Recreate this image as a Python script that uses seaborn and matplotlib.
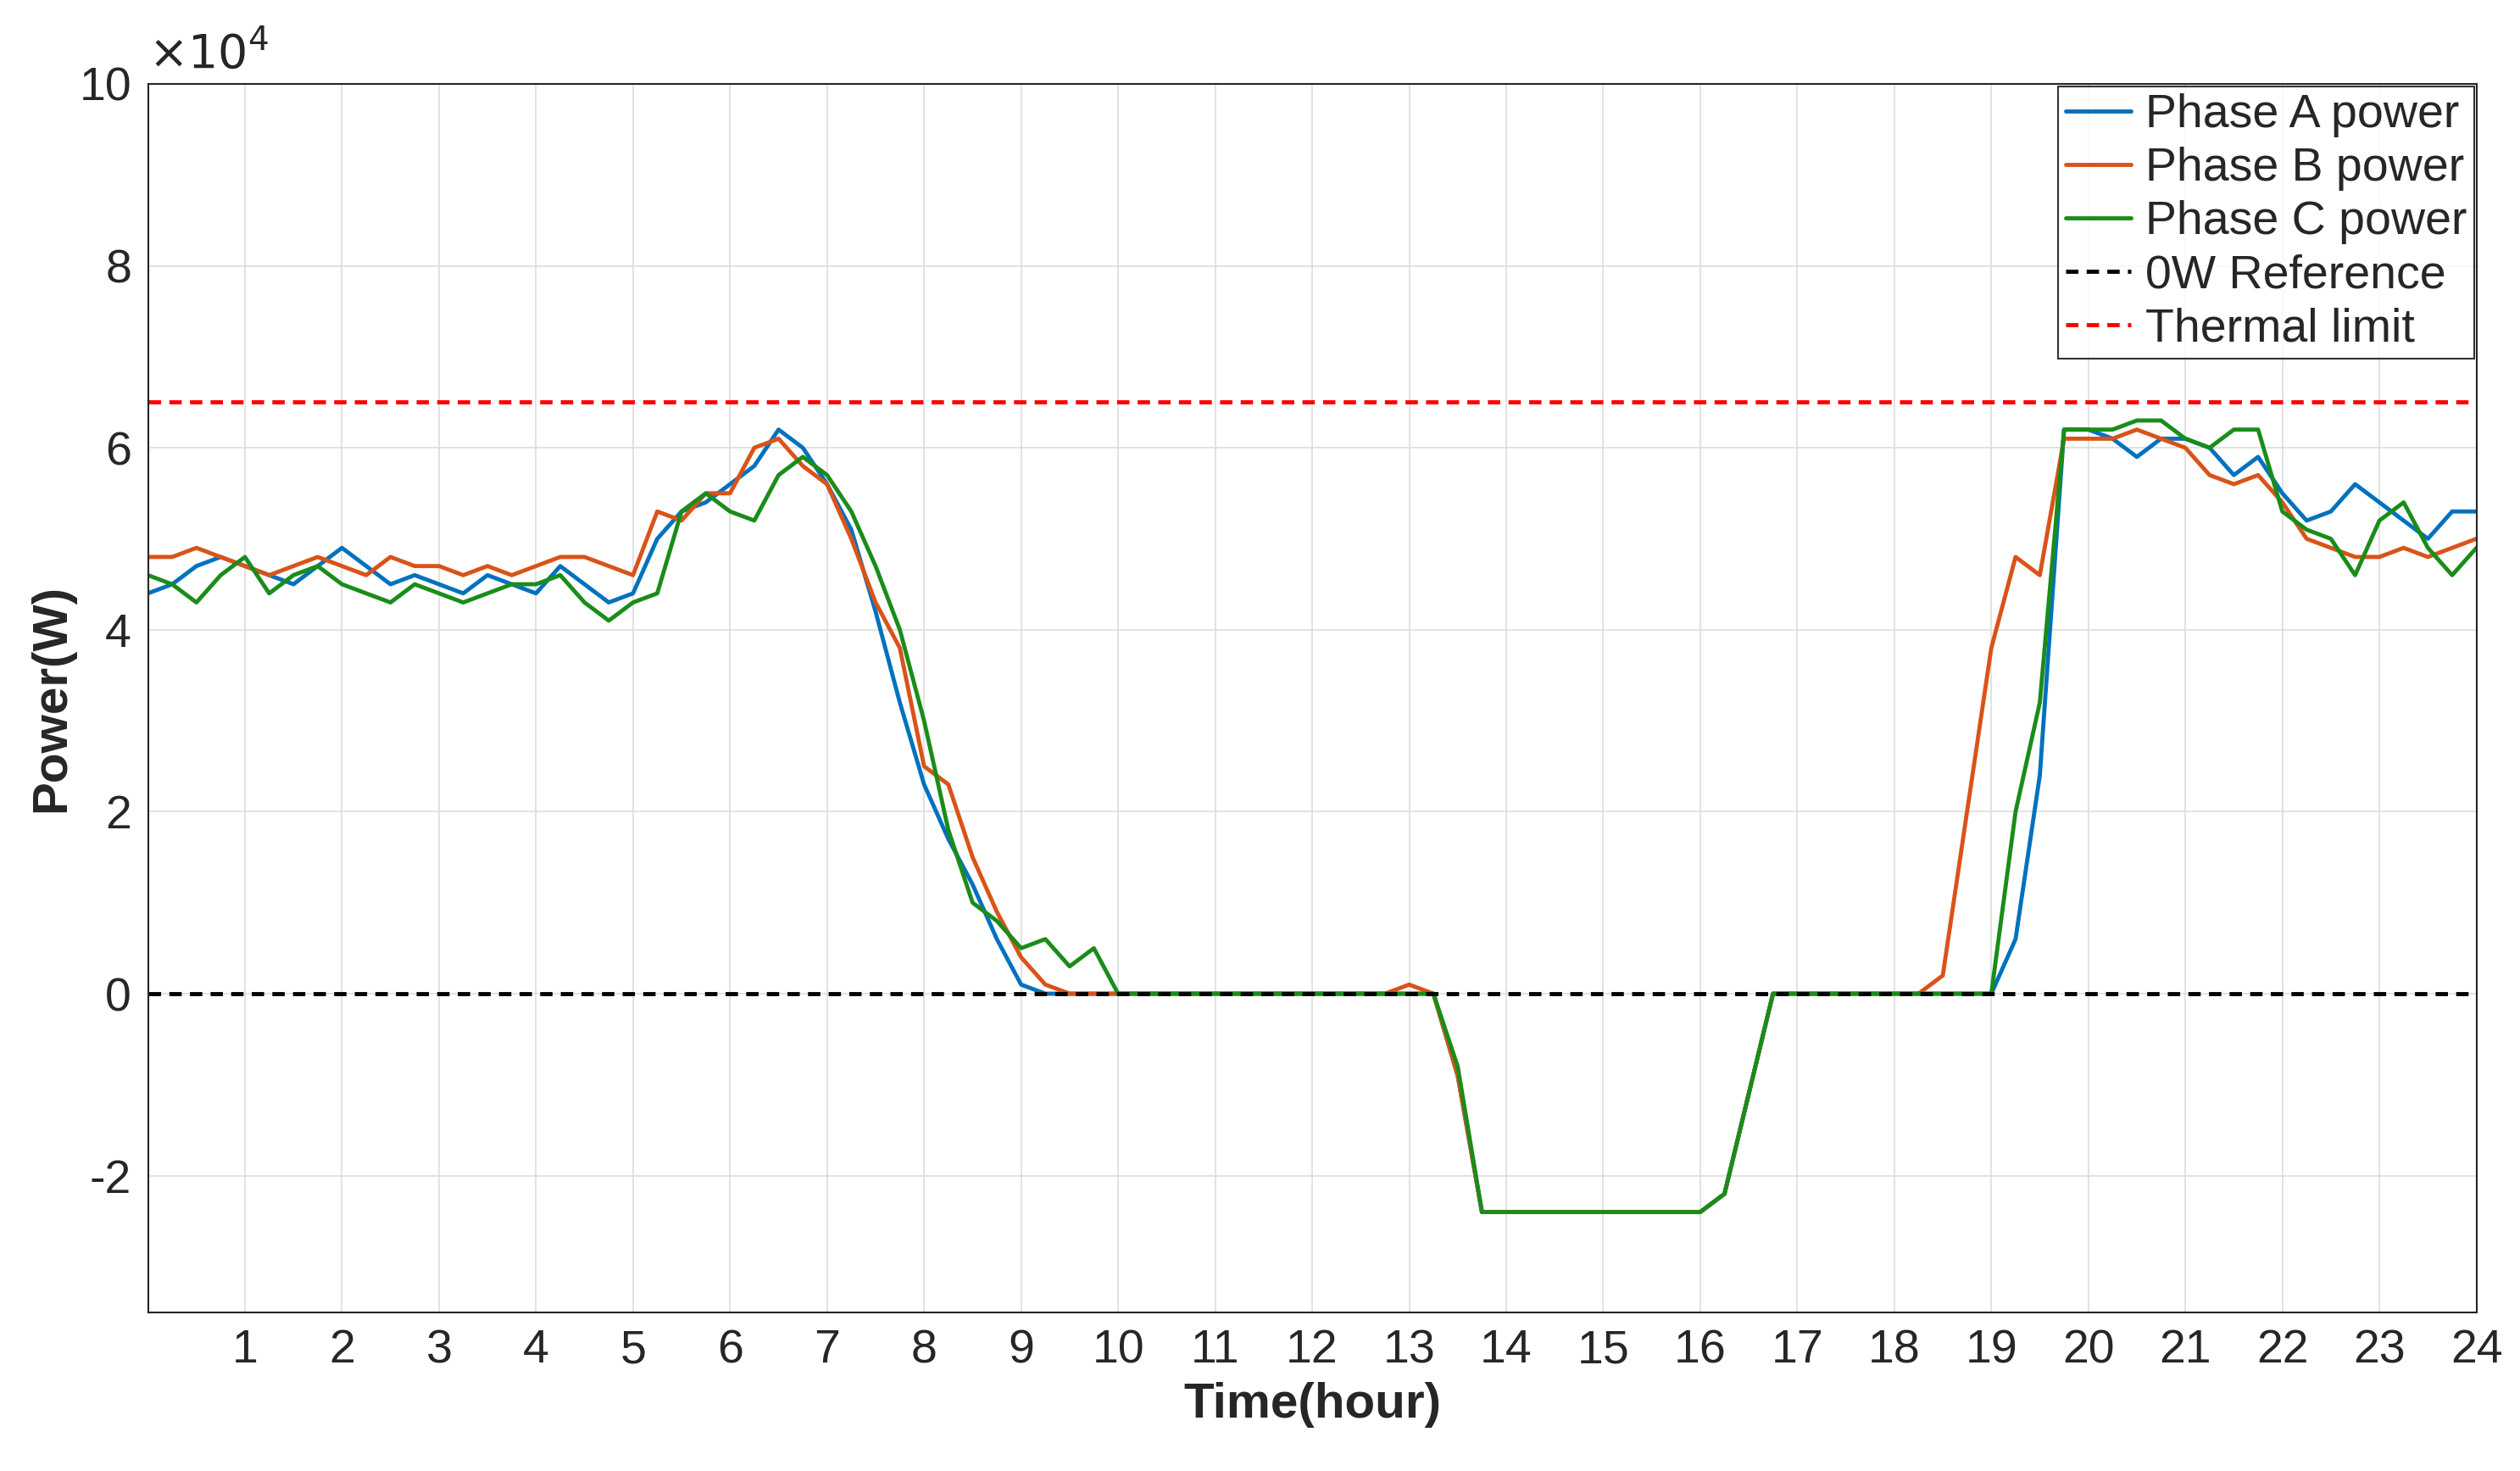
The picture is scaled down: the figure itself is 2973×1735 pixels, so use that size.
import matplotlib
matplotlib.use('Agg')
import matplotlib.pyplot as plt
import seaborn as sns
import numpy as np
import pandas as pd

# power in units of 1e4 W, sampled every 0.25 h from 0 to 24
hours = np.arange(97) * 0.25

phase_a = [4.4, 4.5, 4.7, 4.8, 4.7, 4.6, 4.5, 4.7, 4.9, 4.7, 4.5, 4.6,
           4.5, 4.4, 4.6, 4.5, 4.4, 4.7, 4.5, 4.3, 4.4, 5.0, 5.3, 5.4,
           5.6, 5.8, 6.2, 6.0, 5.6, 5.1, 4.2, 3.2, 2.3, 1.7, 1.2, 0.6,
           0.1, 0.0, 0.0, 0.0, 0, 0, 0, 0, 0, 0, 0, 0, 0, 0, 0, 0,
           0.0, 0.0, -0.9, -2.4, -2.4, -2.4, -2.4, -2.4, -2.4, -2.4, -2.4, -2.4,
           -2.4, -2.2, -1.1, 0.0, 0, 0, 0, 0, 0, 0, 0, 0,
           0.0, 0.6, 2.4, 6.2, 6.2, 6.1, 5.9, 6.1, 6.1, 6.0, 5.7, 5.9,
           5.5, 5.2, 5.3, 5.6, 5.4, 5.2, 5.0, 5.3, 5.3]

phase_b = [4.8, 4.8, 4.9, 4.8, 4.7, 4.6, 4.7, 4.8, 4.7, 4.6, 4.8, 4.7,
           4.7, 4.6, 4.7, 4.6, 4.7, 4.8, 4.8, 4.7, 4.6, 5.3, 5.2, 5.5,
           5.5, 6.0, 6.1, 5.8, 5.6, 5.0, 4.3, 3.8, 2.5, 2.3, 1.5, 0.9,
           0.4, 0.1, 0.0, 0.0, 0, 0, 0, 0, 0, 0, 0, 0, 0, 0, 0, 0,
           0.1, 0.0, -0.9, -2.4, -2.4, -2.4, -2.4, -2.4, -2.4, -2.4, -2.4, -2.4,
           -2.4, -2.2, -1.1, 0.0, 0, 0, 0, 0, 0, 0, 0.2, 2.0,
           3.8, 4.8, 4.6, 6.1, 6.1, 6.1, 6.2, 6.1, 6.0, 5.7, 5.6, 5.7,
           5.4, 5.0, 4.9, 4.8, 4.8, 4.9, 4.8, 4.9, 5.0]

phase_c = [4.6, 4.5, 4.3, 4.6, 4.8, 4.4, 4.6, 4.7, 4.5, 4.4, 4.3, 4.5,
           4.4, 4.3, 4.4, 4.5, 4.5, 4.6, 4.3, 4.1, 4.3, 4.4, 5.3, 5.5,
           5.3, 5.2, 5.7, 5.9, 5.7, 5.3, 4.7, 4.0, 3.0, 1.8, 1.0, 0.8,
           0.5, 0.6, 0.3, 0.5, 0, 0, 0, 0, 0, 0, 0, 0, 0, 0, 0, 0,
           0.0, 0.0, -0.8, -2.4, -2.4, -2.4, -2.4, -2.4, -2.4, -2.4, -2.4, -2.4,
           -2.4, -2.2, -1.1, 0.0, 0, 0, 0, 0, 0, 0, 0, 0,
           0.0, 2.0, 3.2, 6.2, 6.2, 6.2, 6.3, 6.3, 6.1, 6.0, 6.2, 6.2,
           5.3, 5.1, 5.0, 4.6, 5.2, 5.4, 4.9, 4.6, 4.9]

thermal_limit = 6.5
zero_ref = 0.0

sns.set_style('white')
plt.rcParams['font.family'] = ['Arial', 'Liberation Sans', 'DejaVu Sans']
plt.rcParams['axes.unicode_minus'] = False

df = pd.DataFrame({
    'hour': np.concatenate([hours, hours, hours]),
    'power': phase_a + phase_b + phase_c,
    'series': ['Phase A power'] * 97 + ['Phase B power'] * 97 + ['Phase C power'] * 97,
})

fig = plt.figure(figsize=(29.73, 17.35), dpi=100)
ax = fig.add_axes([0.0587, 0.108, 0.924, 0.835])
sns.lineplot(data=df, x='hour', y='power', hue='series', ax=ax, linewidth=3.5,
             palette=['#0072BD', '#D95319', '#1a8c1a'])
ax.axhline(zero_ref, color='black', linestyle='--', linewidth=3.5, dashes=(3, 2),
           label='0W Reference')
ax.axhline(thermal_limit, color='red', linestyle='--', linewidth=3.5, dashes=(3, 2),
           label='Thermal limit')

ax.set_xlim(0, 24)
ax.set_ylim(-3.5, 10)
ax.set_xticks(range(1, 25))
ax.set_yticks(range(-2, 11, 2))
ax.grid(True, color='#dddddd', linewidth=1.2)
for s in ax.spines.values():
    s.set_color('#262626')
    s.set_linewidth(1.5)
ax.tick_params(labelsize=40, direction='in', length=8, colors='#262626', pad=14)
ax.set_xlabel('Time(hour)', fontsize=42, fontweight='bold', labelpad=8)
ax.set_ylabel('Power(W)', fontsize=42, fontweight='bold', labelpad=4)
ax.text(0.0, 1.005, r'$\times10^4$', transform=ax.transAxes, fontsize=40,
        ha='left', va='bottom', color='#262626')

leg = ax.legend(loc='upper right', fontsize=40, frameon=True, fancybox=False,
                edgecolor='black', handlelength=1.4, handletextpad=0.3,
                borderaxespad=0.05, labelspacing=0.2, borderpad=0.15)
leg.get_frame().set_linewidth(1.5)

fig.savefig('out.png', dpi=100)
